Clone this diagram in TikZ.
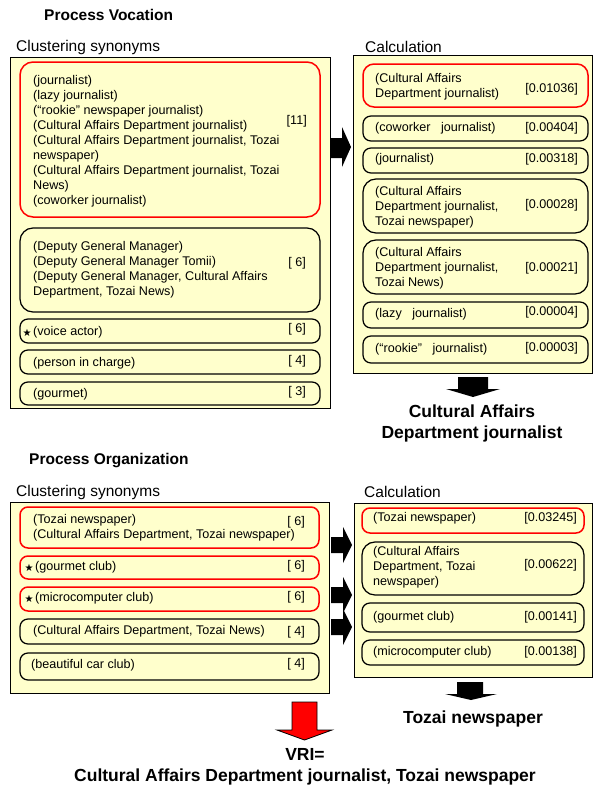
\documentclass[tikz,border=0pt]{standalone}
\usepackage{fontspec}
\setmainfont{Liberation Sans}
\newfontfamily\symfont{DejaVu Sans}
\usetikzlibrary{fit}
\definecolor{panelyellow}{RGB}{255,255,204}
\begin{document}
\begin{tikzpicture}[x=1pt,y=-1pt,
  panel/.style={draw=black, line width=0.9pt, fill=panelyellow, inner sep=0pt},
  rbox/.style={draw=red, line width=1.5pt, rounded corners=8pt, inner sep=0pt},
  bbox/.style={draw=black, line width=1.25pt, rounded corners=8pt, inner sep=0pt},
  bigr/.style={rounded corners=13pt},
  txt/.style={anchor=west, align=left, inner sep=0pt, font=\fontsize{12.6}{15}\selectfont},
  val/.style={anchor=east, inner sep=0pt, font=\fontsize{12.6}{15}\selectfont},
  ttl/.style={anchor=west, inner sep=0pt, font=\fontsize{15.5}{18}\selectfont},
  hdr/.style={anchor=west, inner sep=0pt, font=\bfseries\fontsize{15.5}{18}\selectfont},
  res/.style={align=center, inner sep=0pt, font=\bfseries\fontsize{17.5}{21}\selectfont},
  star/.style={inner sep=0pt, font=\symfont\fontsize{10}{10}\selectfont},
  blockarrow/.style={fill=black}
]
\useasboundingbox (0,0) rectangle (594,787);
\fill[white] (0,0) rectangle (594,787);

% ---------- Process Vocation ----------
\node[hdr] (hv) at (44,15) {Process Vocation};
\node[ttl] (tcs1) at (16,47) {Clustering synonyms};
\node[ttl] (tc1) at (365,47) {Calculation};

\node[panel, fit={(10,57) (330,408)}] (pl1) {};
\node[panel, fit={(353,55) (592,373)}] (pr1) {};

\node[rbox, bigr, fit={(20,62) (320,217)}] (v1) {};
\node[bbox, bigr, fit={(20,228) (320,312)}] (v2) {};
\node[bbox, fit={(20,319) (320,343)}] (v3) {};
\node[bbox, fit={(20,350) (320,374)}] (v4) {};
\node[bbox, fit={(20,382) (320,405)}] (v5) {};

\node[txt] (v1t) at (33,141) {(journalist)\\(lazy journalist)\\(“rookie” newspaper journalist)\\(Cultural Affairs Department journalist)\\(Cultural Affairs Department journalist, Tozai\\newspaper)\\(Cultural Affairs Department journalist, Tozai\\News)\\(coworker journalist)};
\node[val] (v1v) at (307,121) {[11]};
\node[txt] (v2t) at (33,270) {(Deputy General Manager)\\(Deputy General Manager Tomii)\\(Deputy General Manager, Cultural Affairs\\Department, Tozai News)};
\node[val] (v2v) at (306,263) {[ 6]};
\node[star] (v3s) at (27,333) {★};
\node[txt] (v3t) at (33,332) {(voice actor)};
\node[val] (v3v) at (306,329) {[ 6]};
\node[txt] (v4t) at (33,363) {(person in charge)};
\node[val] (v4v) at (306,361) {[ 4]};
\node[txt] (v5t) at (33,394) {(gourmet)};
\node[val] (v5v) at (306,392) {[ 3]};

\node[rbox, rounded corners=11pt, fit={(363,64) (588,107)}] (c1) {};
\node[bbox, fit={(363,116) (588,141)}] (c2) {};
\node[bbox, fit={(363,148) (588,173)}] (c3) {};
\node[bbox, bigr, fit={(363,179) (588,233)}] (c4) {};
\node[bbox, bigr, fit={(363,240) (588,294)}] (c5) {};
\node[bbox, fit={(363,302) (588,328)}] (c6) {};
\node[bbox, fit={(363,336) (588,363)}] (c7) {};

\node[txt] (c1t) at (375,87) {(Cultural Affairs\\Department journalist)};
\node[val] (c1v) at (578,89) {[0.01036]};
\node[txt] (c2t) at (375,128) {(coworker\ \ \ journalist)};
\node[val] (c2v) at (578,128) {[0.00404]};
\node[txt] (c3t) at (375,159) {(journalist)};
\node[val] (c3v) at (578,159) {[0.00318]};
\node[txt] (c4t) at (375,207) {(Cultural Affairs\\Department journalist,\\Tozai newspaper)};
\node[val] (c4v) at (578,205) {[0.00028]};
\node[txt] (c5t) at (375,268) {(Cultural Affairs\\Department journalist,\\Tozai News)};
\node[val] (c5v) at (578,268) {[0.00021]};
\node[txt] (c6t) at (375,314) {(lazy\ \ \ journalist)};
\node[val] (c6v) at (578,312) {[0.00004]};
\node[txt] (c7t) at (375,349) {(“rookie”\ \ \ journalist)};
\node[val] (c7v) at (578,348) {[0.00003]};

% arrow left -> right (vocation)
\fill[blockarrow] (331,138) -- (342,138) -- (342,127) -- (351,147) -- (342,167) -- (342,158) -- (331,158) -- cycle;
% down arrow to result
\fill[blockarrow] (458,377) -- (488,377) -- (488,389) -- (500,389) -- (473,397) -- (446,389) -- (458,389) -- cycle;
\node[res] (r1) at (472,423) {Cultural Affairs\\Department journalist};

% ---------- Process Organization ----------
\node[hdr] (ho) at (29,461) {Process Organization};
\node[ttl] (tcs2) at (16,492) {Clustering synonyms};
\node[ttl] (tc2) at (364,492) {Calculation};

\node[panel, fit={(10,502) (329,693)}] (pl2) {};
\node[panel, fit={(354,503) (592,677)}] (pr2) {};

\node[rbox, fit={(20,507) (319,548)}] (o1) {};
\node[rbox, fit={(20,556) (319,579)}] (o2) {};
\node[rbox, fit={(20,587) (319,611)}] (o3) {};
\node[bbox, fit={(20,619) (319,644)}] (o4) {};
\node[bbox, fit={(20,653) (319,680)}] (o5) {};

\node[txt] (o1t) at (33,527.5) {(Tozai newspaper)\\(Cultural Affairs Department, Tozai newspaper)};
\node[val] (o1v) at (305,522) {[ 6]};
\node[star] (o2s) at (29,568) {★};
\node[txt] (o2t) at (35,567) {(gourmet club)};
\node[val] (o2v) at (305,566) {[ 6]};
\node[star] (o3s) at (29,599) {★};
\node[txt] (o3t) at (35,598) {(microcomputer club)};
\node[val] (o3v) at (305,597) {[ 6]};
\node[txt] (o4t) at (33,631) {(Cultural Affairs Department, Tozai News)};
\node[val] (o4v) at (305,632) {[ 4]};
\node[txt] (o5t) at (31,665) {(beautiful car club)};
\node[val] (o5v) at (305,664) {[ 4]};

\node[rbox, fit={(362,508) (584,533)}] (k1) {};
\node[bbox, bigr, fit={(362,542) (584,595)}] (k2) {};
\node[bbox, fit={(362,603) (584,632)}] (k3) {};
\node[bbox, fit={(362,640) (584,665)}] (k4) {};

\node[txt] (k1t) at (373,518) {(Tozai newspaper)};
\node[val] (k1v) at (577,518) {[0.03245]};
\node[txt] (k2t) at (373,567) {(Cultural Affairs\\Department, Tozai\\newspaper)};
\node[val] (k2v) at (577,565) {[0.00622]};
\node[txt] (k3t) at (373,617) {(gourmet club)};
\node[val] (k3v) at (577,617) {[0.00141]};
\node[txt] (k4t) at (373,652) {(microcomputer club)};
\node[val] (k4v) at (577,652) {[0.00138]};

% arrows left -> right (organization)
\fill[blockarrow] (331,537) -- (343,537) -- (343,527) -- (352,545) -- (343,563) -- (343,553) -- (331,553) -- cycle;
\fill[blockarrow] (331,587) -- (343,587) -- (343,577) -- (352,595) -- (343,613) -- (343,603) -- (331,603) -- cycle;
\fill[blockarrow] (331,619) -- (343,619) -- (343,609) -- (352,627) -- (343,645) -- (343,635) -- (331,635) -- cycle;
% down arrow to result
\fill[blockarrow] (457,682) -- (483,682) -- (483,694) -- (497,694) -- (471,700) -- (445,694) -- (457,694) -- cycle;
\node[res] (r2) at (473,719) {Tozai newspaper};

% final red arrow
\filldraw[fill=red, draw=black, line width=0.8pt] (292,702) -- (317,702) -- (317,730) -- (332,730) -- (304.5,740) -- (277,730) -- (292,730) -- cycle;
\node[res] (vri) at (305,766.5) {VRI=\\Cultural Affairs Department journalist, Tozai newspaper};
\end{tikzpicture}
\end{document}
